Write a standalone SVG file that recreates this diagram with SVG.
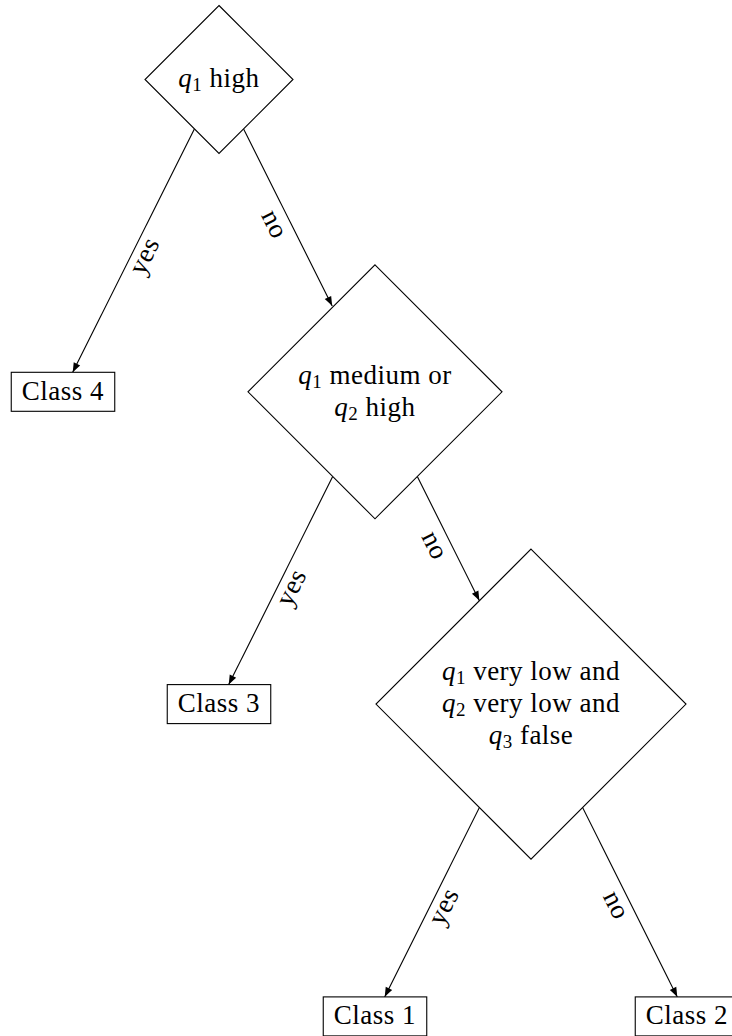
<svg xmlns="http://www.w3.org/2000/svg" width="732" height="1036" viewBox="0 0 732 1036">
  <style>
    .shape { fill: #ffffff; stroke: #000000; stroke-width: 1.1; }
    .edge { fill: none; stroke: #000000; stroke-width: 1.1; marker-end: url(#head); }
    text { font-family: "Liberation Serif", "Times New Roman", serif; font-size: 27px; letter-spacing: 0.5px; fill: #000000; text-anchor: middle; }
    .v { font-style: italic; }
    .sub { font-size: 19px; }
  </style>
  <defs>
    <marker id="head" markerUnits="userSpaceOnUse" markerWidth="12" markerHeight="10" viewBox="-10 -5 11 10" refX="0" refY="0" orient="auto">
      <path d="M0,0 C-3,-1 -6,-2.4 -9.5,-3.6 L-9.5,3.6 C-6,2.4 -3,1 0,0 Z" fill="#000000"/>
    </marker>
  </defs>

  <!-- connectors -->
  <g id="connectors">
    <line class="edge" x1="194.4" y1="128.9" x2="72.7" y2="372.3"/>
    <line class="edge" x1="243.6" y1="128.9" x2="332.2" y2="306"/>
    <line class="edge" x1="332.7" y1="476.5" x2="228.7" y2="684.6"/>
    <line class="edge" x1="417.3" y1="476.5" x2="479.4" y2="600.7"/>
    <line class="edge" x1="479.4" y1="807.5" x2="384.7" y2="996.9"/>
    <line class="edge" x1="582.6" y1="807.5" x2="677.3" y2="996.9"/>

    <!-- edge labels, sloped along each connector -->
    <text transform="translate(149.2,258.4) rotate(-63.45)" y="3">yes</text>
    <text transform="translate(272.3,225.2) rotate(63.45)" y="6">no</text>
    <text transform="translate(296.2,590) rotate(-63.45)" y="3">yes</text>
    <text transform="translate(432.7,546.4) rotate(63.45)" y="6">no</text>
    <text transform="translate(448.5,909) rotate(-63.45)" y="3">yes</text>
    <text transform="translate(614,906) rotate(63.45)" y="6">no</text>
  </g>

  <!-- decision: q1 high -->
  <g id="d1">
    <polygon class="shape" points="219,5.5 293,79.5 219,153.5 145,79.5"/>
    <text x="219" y="87.3"><tspan class="v">q</tspan><tspan class="sub" dy="4">1</tspan><tspan dy="-4"> high</tspan></text>
  </g>

  <!-- leaf: Class 4 -->
  <g id="c4">
    <rect class="shape" x="11.25" y="372.3" width="103.5" height="39"/>
    <text x="63" y="399.6">Class 4</text>
  </g>

  <!-- decision: q1 medium or q2 high -->
  <g id="d2">
    <polygon class="shape" points="375,264.8 502,391.8 375,518.8 248,391.8"/>
    <text x="375" y="383.6"><tspan class="v">q</tspan><tspan class="sub" dy="4">1</tspan><tspan dy="-4"> medium or</tspan></text>
    <text x="375" y="415.6"><tspan class="v">q</tspan><tspan class="sub" dy="4">2</tspan><tspan dy="-4"> high</tspan></text>
  </g>

  <!-- leaf: Class 3 -->
  <g id="c3">
    <rect class="shape" x="167.25" y="684.6" width="103.5" height="39"/>
    <text x="219" y="711.9">Class 3</text>
  </g>

  <!-- decision: q1 very low and q2 very low and q3 false -->
  <g id="d3">
    <polygon class="shape" points="531,549.1 686,704.1 531,859.1 376,704.1"/>
    <text x="531" y="679.6"><tspan class="v">q</tspan><tspan class="sub" dy="4">1</tspan><tspan dy="-4"> very low and</tspan></text>
    <text x="531" y="711.9"><tspan class="v">q</tspan><tspan class="sub" dy="4">2</tspan><tspan dy="-4"> very low and</tspan></text>
    <text x="531" y="744.2"><tspan class="v">q</tspan><tspan class="sub" dy="4">3</tspan><tspan dy="-4"> false</tspan></text>
  </g>

  <!-- leaf: Class 1 -->
  <g id="c1">
    <rect class="shape" x="323.25" y="996.9" width="103.5" height="39"/>
    <text x="375" y="1024.2">Class 1</text>
  </g>

  <!-- leaf: Class 2 -->
  <g id="c2">
    <rect class="shape" x="635.25" y="996.9" width="103.5" height="39"/>
    <text x="687" y="1024.2">Class 2</text>
  </g>
</svg>
